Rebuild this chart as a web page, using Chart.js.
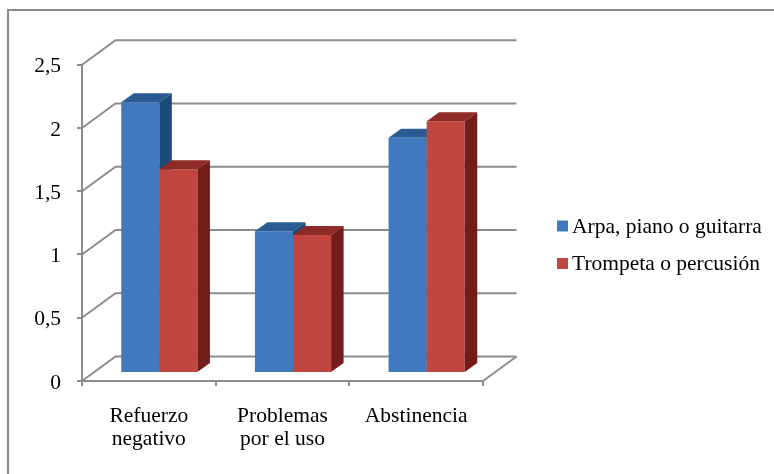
<!DOCTYPE html>
<html>
<head>
<meta charset="utf-8">
<script src="https://cdn.jsdelivr.net/npm/chart.js@4/dist/chart.umd.min.js"></script>
<style>
  html, body { margin: 0; padding: 0; background: #fff; }
  #wrap { width: 774px; height: 474px; position: relative; }
</style>
</head>
<body>
<div id="wrap"><canvas id="c" width="774" height="474"></canvas></div>
<script>
// Categories (multi-line labels) and series values
const categories = [['Refuerzo', 'negativo'], ['Problemas', 'por el uso'], ['Abstinencia']];
const seriesNames = ['Arpa, piano o guitarra', 'Trompeta o percusión'];
const arpaPianoGuitarra = [2.14, 1.12, 1.86];
const trompetaPercusion = [1.61, 1.09, 1.99];
const yTickValues = [0, 0.5, 1, 1.5, 2, 2.5];

// 3D look: depth of the back wall and of each bar
const WALL_DX = 33.5, WALL_DY = -24.5;
const BAR_SHIFT_X = 10.5, BAR_SHIFT_Y = -8;
const BAR_DX = 12.5, BAR_DY = -9;
const GRID = '#8c8c8c';
const FONT = { family: "'Liberation Serif', 'Times New Roman', serif", size: 21.5 };
const shades = [
  { front: '#4079be', top: '#2a5c93', side: '#1b4b78' },
  { front: '#c0463f', top: '#8f2b27', side: '#741c19' }
];

function poly(ctx, pts, fill) {
  ctx.beginPath();
  ctx.moveTo(pts[0][0], pts[0][1]);
  for (let k = 1; k < pts.length; k++) ctx.lineTo(pts[k][0], pts[k][1]);
  ctx.closePath();
  ctx.fillStyle = fill;
  ctx.fill();
}

const box3d = {
  id: 'box3d',
  beforeDraw(chart) {
    const ctx = chart.ctx;
    ctx.save();
    ctx.strokeStyle = '#8a8a8a';
    ctx.lineWidth = 2;
    ctx.beginPath();
    ctx.moveTo(8, 474);
    ctx.lineTo(8, 10);
    ctx.lineTo(774, 10);
    ctx.stroke();
    ctx.restore();
  },
  beforeDatasetsDraw(chart) {
    const { ctx, chartArea: a, scales: { y } } = chart;
    ctx.save();
    ctx.strokeStyle = GRID;
    ctx.lineWidth = 2;
    // back wall gridlines with their side-wall diagonals
    yTickValues.forEach(v => {
      const py = y.getPixelForValue(v);
      ctx.beginPath();
      ctx.moveTo(a.left, py);
      ctx.lineTo(a.left + WALL_DX, py + WALL_DY);
      ctx.lineTo(a.right + WALL_DX, py + WALL_DY);
      ctx.stroke();
    });
    // right edge of the floor
    ctx.beginPath();
    ctx.moveTo(a.right, a.bottom);
    ctx.lineTo(a.right + WALL_DX, a.bottom + WALL_DY);
    ctx.stroke();

    // bars, category by category so nearer faces overlap correctly
    ctx.translate(BAR_SHIFT_X, BAR_SHIFT_Y);
    const metas = chart.data.datasets.map((d, i) => chart.getDatasetMeta(i));
    for (let i = 0; i < categories.length; i++) {
      metas.forEach((m, di) => {
        const bar = m.data[i];
        const { x, y: top, base, width } = bar.getProps(['x', 'y', 'base', 'width'], true);
        const l = x - width / 2, r = x + width / 2;
        bar.draw(ctx);
        poly(ctx, [[l, top], [l + BAR_DX, top + BAR_DY], [r + BAR_DX, top + BAR_DY], [r, top]], shades[di].top);
        poly(ctx, [[r, top], [r + BAR_DX, top + BAR_DY], [r + BAR_DX, base + BAR_DY], [r, base]], shades[di].side);
      });
    }
    ctx.restore();
    return false;
  },
  afterDraw(chart) {
    // legend to the right of the plot
    const ctx = chart.ctx;
    ctx.save();
    ctx.font = `${FONT.size}px ${FONT.family}`;
    ctx.textBaseline = 'middle';
    ctx.textAlign = 'left';
    chart.data.datasets.forEach((ds, i) => {
      const cy = 226 + i * 37.5;
      ctx.fillStyle = ds.backgroundColor;
      ctx.fillRect(557, cy - 5.5, 11, 11);
      ctx.fillStyle = '#000';
      ctx.fillText(ds.label, 572, cy + 1);
    });
    ctx.restore();
  }
};

Chart.defaults.color = '#000';
Chart.defaults.font.family = FONT.family;
Chart.defaults.font.size = FONT.size;

new Chart(document.getElementById('c'), {
  type: 'bar',
  data: {
    labels: categories,
    datasets: [
      { label: seriesNames[0], data: arpaPianoGuitarra, backgroundColor: shades[0].front, borderWidth: 0 },
      { label: seriesNames[1], data: trompetaPercusion, backgroundColor: shades[1].front, borderWidth: 0 }
    ]
  },
  options: {
    responsive: false,
    devicePixelRatio: 1,
    animation: false,
    events: [],
    layout: { padding: { left: 0, top: 64.7, right: 291, bottom: 0 } },
    datasets: { bar: { categoryPercentage: 0.57, barPercentage: 1 } },
    plugins: { legend: { display: false }, tooltip: { enabled: false } },
    scales: {
      x: {
        afterFit(s) { s.height = 93; },
        grid: { drawOnChartArea: false, color: GRID, lineWidth: 2, tickLength: 5, offset: true },
        border: { color: GRID, width: 2 },
        ticks: { padding: 19, font: { family: FONT.family, size: FONT.size, lineHeight: 1.05 }, maxRotation: 0, autoSkip: false }
      },
      y: {
        min: 0, max: 2.5,
        afterFit(s) { s.width = 82; },
        afterBuildTicks(s) { s.ticks = yTickValues.map(v => ({ value: v })); },
        grid: { drawOnChartArea: false, color: GRID, lineWidth: 2, tickLength: 5 },
        border: { color: GRID, width: 2 },
        ticks: { padding: 16, labelOffset: 2, font: { family: FONT.family, size: FONT.size }, callback: v => String(v).replace('.', ',') }
      }
    }
  },
  plugins: [box3d]
});
</script>
</body>
</html>
